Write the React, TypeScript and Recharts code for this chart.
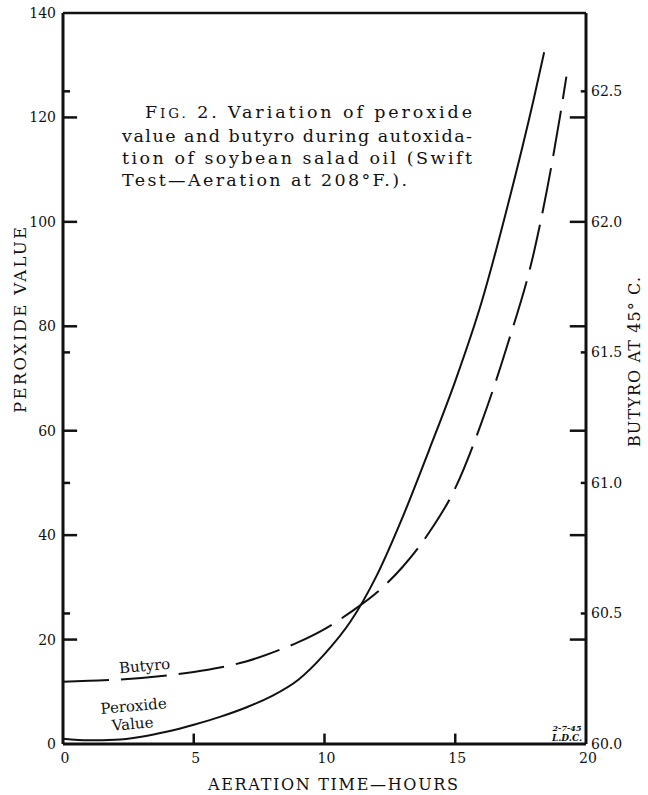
import React from 'react';
import { LineChart, Line, XAxis, YAxis, ReferenceLine, Label } from 'recharts';

// Peroxide value (solid line), left axis
const peroxideHours = [0, 1, 2, 3, 4, 5, 6, 7, 8, 9, 10, 11, 12, 13, 14, 15, 16, 17, 18, 18.4];
const peroxideValues = [1.0, 0.7, 0.8, 1.4, 2.4, 3.7, 5.2, 7.0, 9.2, 12.3, 17.2, 23.5, 32.3, 43.6, 56.3, 69.5, 84.5, 103.0, 123.5, 132.5];

// Butyro at 45 C (dashed line), right axis
const butyroHours = [0, 1, 2, 3, 4, 5, 6, 7, 8, 9, 10, 11, 12, 13, 14, 15, 16, 17, 18, 19, 19.25];
const butyroValues = [60.238, 60.242, 60.246, 60.253, 60.263, 60.276, 60.293, 60.316, 60.35, 60.39, 60.44, 60.505, 60.58, 60.68, 60.81, 60.98, 61.23, 61.53, 61.88, 62.4, 62.556];

const xTicks = [0, 5, 10, 15, 20];
const leftMajorTicks = [0, 20, 40, 60, 80, 100, 120, 140];
const rightMajorTicks = [60.0, 60.5, 61.0, 61.5, 62.0, 62.5];
const leftDomain: [number, number] = [0, 140];
const rightDomain: [number, number] = [60, 62.8];
const xDomain: [number, number] = [0, 20];

const toLeft = (b: number) => ((b - rightDomain[0]) / (rightDomain[1] - rightDomain[0])) * leftDomain[1];
const toRight = (v: number) => rightDomain[0] + (v / leftDomain[1]) * (rightDomain[1] - rightDomain[0]);
const near = (a: number, list: number[]) => list.some((x) => Math.abs(x - a) < 1e-6);

// cross-reference marks: each axis carries marks at the other axis' main values
const leftMinorTicks = rightMajorTicks.filter((b) => b !== 60 && b !== 62).map(toLeft);
const rightLongTicks = leftMajorTicks
  .filter((v) => v > 0 && v < 140)
  .map(toRight)
  .filter((b) => !near(b, rightMajorTicks));

const peroxideData = peroxideHours.map((t, i) => ({ t, v: peroxideValues[i] }));
const butyroData = butyroHours.map((t, i) => ({ t, b: butyroValues[i] }));

// tick mark sizes expressed in axis units (about 14px / 7px / 16px / 5px / 10px)
const LEFT_MAJOR_LEN = 0.54;
const LEFT_MINOR_LEN = 0.27;
const RIGHT_LONG_LEN = 0.62;
const RIGHT_SHORT_LEN = 0.2;
const BOTTOM_LEN = 2.0;

// inward time-axis marks at 5, 10, 15 h, drawn as short vertical strokes through the axis scales
const bottomMarks = xTicks
  .filter((t) => t > xDomain[0] && t < xDomain[1])
  .map((t) => [
    { t, v: leftDomain[0] },
    { t, v: leftDomain[0] + BOTTOM_LEN },
  ]);

const FONT = "'DejaVu Serif', 'Liberation Serif', serif";
const INK = '#111';

const LeftTick = (props: any) => {
  const { x, y, payload } = props;
  return (
    <text x={x - 7} y={y + 5} textAnchor="end" fontSize={14} fontFamily={FONT} fill={INK}>
      {payload.value}
    </text>
  );
};

const RightTick = (props: any) => {
  const { x, y, payload } = props;
  return (
    <text x={x + 5} y={y + 5} textAnchor="start" fontSize={14} fontFamily={FONT} fill={INK}>
      {Number(payload.value).toFixed(1)}
    </text>
  );
};

const BottomTick = (props: any) => {
  const { x, y, payload } = props;
  return (
    <text x={x + 2} y={y + 19} textAnchor="middle" fontSize={14} fontFamily={FONT} fill={INK}>
      {payload.value}
    </text>
  );
};

const Annotations = () => (
  <g fontFamily={FONT} fill={INK}>
    <text x={333} y={790} textAnchor="middle" fontSize={16} textLength={250} lengthAdjust="spacing">
      AERATION TIME—HOURS
    </text>
    <text
      x={20}
      y={320}
      transform="rotate(-90 20 320)"
      textAnchor="middle"
      dominantBaseline="central"
      fontSize={16.5}
      textLength={186}
      lengthAdjust="spacing"
    >
      PEROXIDE VALUE
    </text>
    <text
      x={634}
      y={362}
      transform="rotate(-90 634 362)"
      textAnchor="middle"
      dominantBaseline="central"
      fontSize={16}
      textLength={170}
      lengthAdjust="spacing"
    >
      BUTYRO AT 45° C.
    </text>
    <text x={145} y={118} fontSize={17.5} textLength={327} lengthAdjust="spacing">
      F<tspan fontSize={13.5}>IG.</tspan> 2. Variation of peroxide
    </text>
    <text x={122} y={142} fontSize={17.5} textLength={350} lengthAdjust="spacing">
      value and butyro during autoxida-
    </text>
    <text x={122} y={164} fontSize={17.5} textLength={350} lengthAdjust="spacing">
      tion of soybean salad oil (Swift
    </text>
    <text x={122} y={186} fontSize={17.5} textLength={285} lengthAdjust="spacing">
      Test—Aeration at 208°F.).
    </text>
    <text x={145} y={671} fontSize={15} textAnchor="middle" transform="rotate(-5 145 671)">
      Butyro
    </text>
    <text x={134} y={711} fontSize={15} textAnchor="middle" transform="rotate(-5 134 711)">
      Peroxide
    </text>
    <text x={133} y={729} fontSize={15} textAnchor="middle" transform="rotate(-5 133 729)">
      Value
    </text>
    <text x={567} y={731} fontSize={8} fontStyle="italic" fontWeight="bold" textAnchor="middle">
      2-7-45
    </text>
    <text x={567} y={741} fontSize={9} fontStyle="italic" fontWeight="bold" textAnchor="middle">
      L.D.C.
    </text>
  </g>
);

const markStyle = { stroke: INK, strokeWidth: 2.5, ifOverflow: 'visible' as const };

export default function App() {
  return (
    <div style={{ position: 'absolute', left: 0, top: 0, width: 648, height: 795, background: '#fff' }}>
      <LineChart width={648} height={795} margin={{ top: 13, right: 0, left: 0, bottom: 0 }}>
        <XAxis
          dataKey="t"
          type="number"
          domain={xDomain}
          ticks={xTicks}
          interval={0}
          height={51}
          tickSize={0}
          tickMargin={0}
          tick={<BottomTick />}
          tickLine={false}
          axisLine={{ stroke: INK, strokeWidth: 3 }}
          allowDataOverflow
        >
          <Label content={() => <Annotations />} />
        </XAxis>
        <YAxis
          yAxisId="left"
          orientation="left"
          domain={leftDomain}
          ticks={leftMajorTicks}
          interval={0}
          width={63}
          tickSize={0}
          tickMargin={0}
          tick={<LeftTick />}
          tickLine={false}
          axisLine={{ stroke: INK, strokeWidth: 3 }}
          allowDataOverflow
        />
        <YAxis
          yAxisId="right"
          orientation="right"
          domain={rightDomain}
          ticks={rightMajorTicks}
          interval={0}
          width={62}
          tickSize={0}
          tickMargin={0}
          tick={<RightTick />}
          tickLine={false}
          axisLine={{ stroke: INK, strokeWidth: 3 }}
          allowDataOverflow
        />
        <ReferenceLine yAxisId="left" y={140} stroke={INK} strokeWidth={2.5} ifOverflow="visible" />

        {leftMajorTicks
          .filter((v) => v > 0 && v < 140)
          .map((v) => (
            <ReferenceLine
              key={`lm${v}`}
              yAxisId="left"
              segment={[{ x: xDomain[0], y: v }, { x: xDomain[0] + LEFT_MAJOR_LEN, y: v }]}
              {...markStyle}
            />
          ))}
        {leftMinorTicks.map((v) => (
          <ReferenceLine
            key={`ln${v}`}
            yAxisId="left"
            segment={[{ x: xDomain[0], y: v }, { x: xDomain[0] + LEFT_MINOR_LEN, y: v }]}
            {...markStyle}
          />
        ))}
        {rightMajorTicks
          .filter((b) => b > 60)
          .map((b) => (
            <ReferenceLine
              key={`rm${b}`}
              yAxisId="right"
              segment={[
                { x: xDomain[1] - (b === 62 ? RIGHT_LONG_LEN : RIGHT_SHORT_LEN), y: b },
                { x: xDomain[1], y: b },
              ]}
              {...markStyle}
            />
          ))}
        {rightLongTicks.map((b) => (
          <ReferenceLine
            key={`rl${b}`}
            yAxisId="right"
            segment={[{ x: xDomain[1] - RIGHT_LONG_LEN, y: b }, { x: xDomain[1], y: b }]}
            {...markStyle}
          />
        ))}

        {bottomMarks.map((pts, i) => (
          <Line
            key={`bm${i}`}
            yAxisId="left"
            data={pts}
            dataKey="v"
            type="linear"
            stroke={INK}
            strokeWidth={2.5}
            dot={false}
            activeDot={false}
            legendType="none"
            isAnimationActive={false}
          />
        ))}

        <Line
          yAxisId="left"
          data={peroxideData}
          dataKey="v"
          type="monotone"
          stroke={INK}
          strokeWidth={2}
          dot={false}
          isAnimationActive={false}
        />
        <Line
          yAxisId="right"
          data={butyroData}
          dataKey="b"
          type="monotone"
          stroke={INK}
          strokeWidth={2}
          strokeDasharray="46 12"
          dot={false}
          isAnimationActive={false}
        />
      </LineChart>
    </div>
  );
}
